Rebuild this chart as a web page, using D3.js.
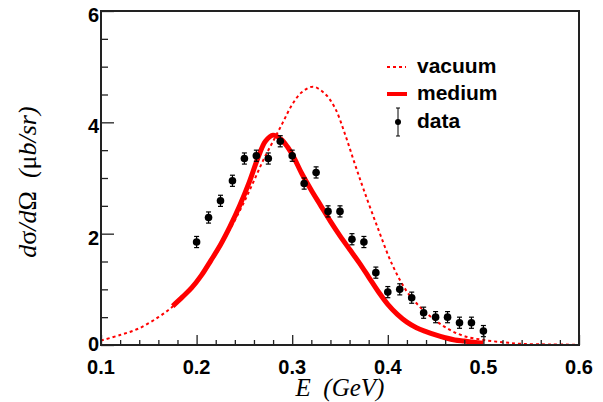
<!DOCTYPE html>
<html>
<head>
<meta charset="utf-8">
<script src="https://cdn.jsdelivr.net/npm/d3@7"></script>
<style>
  html, body { margin: 0; padding: 0; background: #fff; }
  svg { display: block; }
</style>
</head>
<body>
<svg id="chart" width="603" height="402"></svg>
<script>
// Measured cross section (points with error bars)
const dataEnergy = [0.2, 0.2125, 0.225, 0.2375, 0.25, 0.2625, 0.275, 0.2875, 0.3, 0.3125,
  0.325, 0.3375, 0.35, 0.3625, 0.375, 0.3875, 0.4, 0.4125, 0.425, 0.4375,
  0.45, 0.4625, 0.475, 0.4875, 0.5];
const dataValue = [1.85, 2.29, 2.59, 2.95, 3.35, 3.40, 3.35, 3.66, 3.40, 2.90,
  3.10, 2.40, 2.40, 1.90, 1.85, 1.30, 0.95, 1.00, 0.85, 0.58,
  0.50, 0.50, 0.40, 0.40, 0.25];
const dataError = [0.1, 0.1, 0.1, 0.1, 0.1, 0.1, 0.1, 0.1, 0.1, 0.1,
  0.1, 0.1, 0.1, 0.1, 0.1, 0.1, 0.1, 0.1, 0.1, 0.1,
  0.1, 0.1, 0.1, 0.1, 0.1];

// Vacuum calculation (dotted curve)
const vacuumEnergy = [0.10, 0.12, 0.14, 0.16, 0.175, 0.19, 0.20, 0.21, 0.22, 0.23,
  0.24, 0.25, 0.26, 0.27, 0.28, 0.29, 0.30, 0.31, 0.322, 0.335,
  0.345, 0.355, 0.365, 0.375, 0.39, 0.405, 0.42, 0.435, 0.45, 0.465,
  0.48, 0.50, 0.52, 0.54, 0.57, 0.60];
const vacuumValue = [0.08, 0.18, 0.30, 0.50, 0.69, 0.93, 1.12, 1.36, 1.62, 1.93,
  2.24, 2.58, 2.95, 3.33, 3.66, 3.99, 4.32, 4.54, 4.64, 4.50,
  4.25, 3.80, 3.28, 2.78, 2.08, 1.43, 0.96, 0.66, 0.44, 0.27,
  0.16, 0.09, 0.05, 0.02, 0.01, 0.005];

// In-medium calculation (thick solid curve)
const mediumEnergy = [0.175, 0.185, 0.195, 0.205, 0.215, 0.225, 0.235, 0.245, 0.255, 0.265,
  0.272, 0.28, 0.288, 0.295, 0.302, 0.31, 0.32, 0.33, 0.34, 0.35,
  0.36, 0.37, 0.38, 0.39, 0.40, 0.41, 0.42, 0.43, 0.44, 0.45,
  0.46, 0.47, 0.48, 0.49, 0.50];
const mediumValue = [0.70, 0.86, 1.03, 1.25, 1.52, 1.80, 2.13, 2.50, 2.92, 3.40,
  3.66, 3.77, 3.70, 3.56, 3.36, 3.08, 2.78, 2.50, 2.22, 1.96,
  1.72, 1.48, 1.22, 0.96, 0.73, 0.55, 0.41, 0.31, 0.24, 0.18,
  0.13, 0.09, 0.07, 0.05, 0.03];

// Axis ticks
const xMajorTicks = [0.1, 0.2, 0.3, 0.4, 0.5, 0.6];
const yMajorTicks = [0, 2, 4, 6];

const legendLabels = ["vacuum", "medium", "data"];

const svg = d3.select("#chart");
const frame = { left: 101, right: 579, top: 11, bottom: 345 };

const x = d3.scaleLinear().domain([0.1, 0.6]).range([frame.left, frame.right]);
const y = d3.scaleLinear().domain([0, 6]).range([frame.bottom, frame.top]);

svg.append("defs").append("clipPath").attr("id", "plotClip")
  .append("rect")
  .attr("x", frame.left).attr("y", frame.top)
  .attr("width", frame.right - frame.left).attr("height", frame.bottom - frame.top);

const plot = svg.append("g").attr("clip-path", "url(#plotClip)");

const line = d3.line()
  .x(d => x(d[0]))
  .y(d => y(d[1]))
  .curve(d3.curveCatmullRom.alpha(0.5));

// vacuum curve
plot.append("path")
  .datum(vacuumEnergy.map((e, i) => [e, vacuumValue[i]]))
  .attr("d", line)
  .attr("fill", "none")
  .attr("stroke", "#ff0000")
  .attr("stroke-width", 2)
  .attr("stroke-dasharray", "3,3");

// medium curve
plot.append("path")
  .datum(mediumEnergy.map((e, i) => [e, mediumValue[i]]))
  .attr("d", line)
  .attr("fill", "none")
  .attr("stroke", "#ff0000")
  .attr("stroke-width", 5);

// data points with error bars
const pts = plot.append("g");
dataEnergy.forEach((e, i) => {
  const cx = x(e);
  const lo = y(dataValue[i] - dataError[i]);
  const hi = y(dataValue[i] + dataError[i]);
  pts.append("line").attr("x1", cx).attr("x2", cx).attr("y1", lo).attr("y2", hi)
    .attr("stroke", "#000").attr("stroke-width", 1.2);
  [lo, hi].forEach(yy => {
    pts.append("line").attr("x1", cx - 2.5).attr("x2", cx + 2.5).attr("y1", yy).attr("y2", yy)
      .attr("stroke", "#000").attr("stroke-width", 1.2);
  });
  pts.append("circle").attr("cx", cx).attr("cy", y(dataValue[i])).attr("r", 3.8).attr("fill", "#000");
});

// axes: ticks pointing inward
const xAxis = d3.axisTop(x)
  .tickValues(d3.range(0.1, 0.6001, 0.02))
  .tickSize(5)
  .tickFormat("");
svg.append("g").attr("transform", `translate(0,${frame.bottom})`).call(xAxis)
  .call(g => g.select(".domain").remove())
  .call(g => g.selectAll(".tick line")
    .attr("stroke", "#222").attr("stroke-width", 1.3)
    .attr("y2", d => (Math.abs(Math.round(d * 10) - d * 10) < 1e-6 ? -10 : -5)));

const yAxis = d3.axisRight(y)
  .tickValues(d3.range(0, 6.001, 0.5))
  .tickSize(7)
  .tickFormat("");
svg.append("g").attr("transform", `translate(${frame.left},0)`).call(yAxis)
  .call(g => g.select(".domain").remove())
  .call(g => g.selectAll(".tick line")
    .attr("stroke", "#222").attr("stroke-width", 1.3)
    .attr("x2", d => (Math.abs(Math.round(d / 2) - d / 2) < 1e-6 ? 13 : 7)));

// frame
svg.append("rect")
  .attr("x", frame.left).attr("y", frame.top)
  .attr("width", frame.right - frame.left).attr("height", frame.bottom - frame.top)
  .attr("fill", "none").attr("stroke", "#222").attr("stroke-width", 2);

// tick labels
const labelFont = "'Liberation Sans', Arial, sans-serif";
svg.append("g").selectAll("text").data(xMajorTicks).join("text")
  .attr("x", d => x(d)).attr("y", 373.5)
  .attr("text-anchor", "middle")
  .attr("font-family", labelFont).attr("font-weight", "bold").attr("font-size", 20)
  .attr("fill", "#000")
  .text(d => d3.format(".1f")(d));

// the zero label sits a little higher so it clears the x labels
svg.append("g").selectAll("text").data(yMajorTicks).join("text")
  .attr("x", 99).attr("y", d => y(d) + (d === 0 ? 6 : 11))
  .attr("text-anchor", "end")
  .attr("font-family", labelFont).attr("font-weight", "bold").attr("font-size", 20)
  .attr("fill", "#000")
  .text(d => d);

// axis titles
const serif = "'Liberation Serif', 'Times New Roman', serif";
svg.append("text")
  .attr("x", (frame.left + frame.right) / 2).attr("y", 396)
  .attr("text-anchor", "middle")
  .attr("font-family", serif).attr("font-size", 25).attr("font-style", "italic")
  .attr("fill", "#000")
  .attr("xml:space", "preserve")
  .text("E  (GeV)");

const yt = svg.append("text")
  .attr("transform", `translate(36,${(frame.top + frame.bottom) / 2 + 4}) rotate(-90)`)
  .attr("text-anchor", "middle")
  .attr("font-family", serif).attr("font-size", 26)
  .attr("fill", "#000")
  .attr("xml:space", "preserve");
[["d", true], ["σ", false], ["/", true], ["d", true], ["Ω", false],
 ["  (", true], ["μ", false], ["b/sr)", true]].forEach(([t, it]) => {
  yt.append("tspan").attr("font-style", it ? "italic" : "normal").text(t);
});

// legend
const lg = svg.append("g");
const rowY = [67, 94, 122];
lg.append("line").attr("x1", 387).attr("x2", 406).attr("y1", rowY[0]).attr("y2", rowY[0])
  .attr("stroke", "#ff0000").attr("stroke-width", 2).attr("stroke-dasharray", "3,3");
lg.append("line").attr("x1", 387).attr("x2", 407).attr("y1", rowY[1]).attr("y2", rowY[1])
  .attr("stroke", "#ff0000").attr("stroke-width", 4);
lg.append("line").attr("x1", 398).attr("x2", 398).attr("y1", rowY[2] - 14).attr("y2", rowY[2] + 14)
  .attr("stroke", "#000").attr("stroke-width", 1);
[rowY[2] - 14, rowY[2] + 14].forEach(yy => {
  lg.append("line").attr("x1", 396).attr("x2", 400).attr("y1", yy).attr("y2", yy)
    .attr("stroke", "#000").attr("stroke-width", 1);
});
lg.append("circle").attr("cx", 398).attr("cy", rowY[2]).attr("r", 3).attr("fill", "#000");
lg.selectAll("text").data(legendLabels).join("text")
  .attr("x", 417).attr("y", (d, i) => rowY[i] + 6)
  .attr("font-family", labelFont).attr("font-weight", "bold").attr("font-size", 21)
  .attr("fill", "#000")
  .text(d => d);
</script>
</body>
</html>
